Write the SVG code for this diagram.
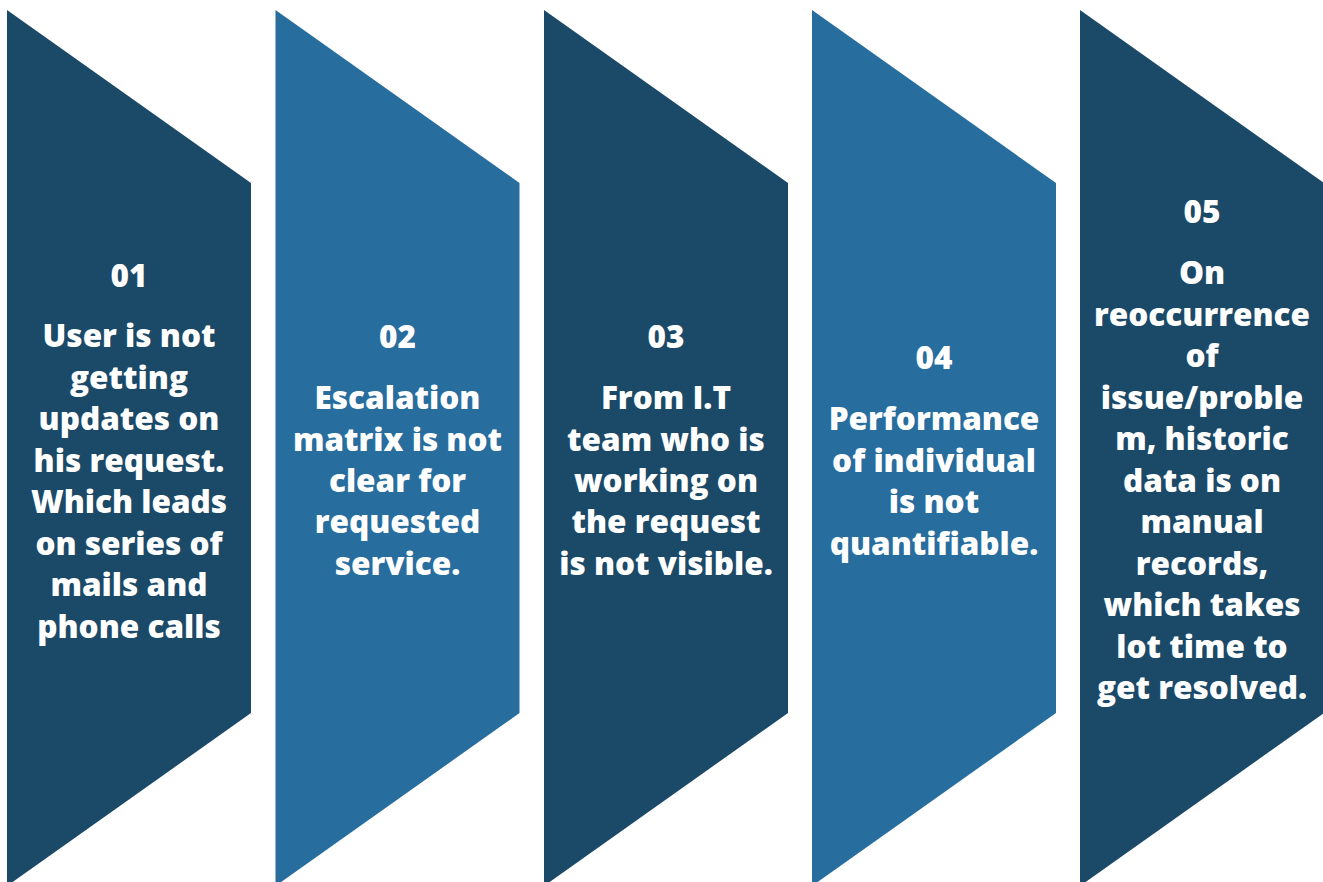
<svg xmlns="http://www.w3.org/2000/svg" width="1323" height="882" viewBox="0 0 1323 882">
<style>
.dark{fill:#1B4968}
.light{fill:#276D9E}
text{font-family:"Open Sans","Noto Sans","DejaVu Sans",sans-serif;font-weight:800;font-size:31.5px;fill:#FFFFFF;text-anchor:middle}
</style>
<rect x="0" y="0" width="1323" height="882" fill="#FFFFFF"/>
<g id="node1">
<polygon class="dark" points="7,10 251,183 251,713 7,886"/>
<text x="129"><tspan x="129" y="287">01</tspan><tspan x="129" y="347">User is not</tspan><tspan x="129" y="389">getting</tspan><tspan x="129" y="430">updates on</tspan><tspan x="129" y="472">his request.</tspan><tspan x="129" y="513">Which leads</tspan><tspan x="129" y="555">on series of</tspan><tspan x="129" y="596">mails and</tspan><tspan x="129" y="638">phone calls</tspan></text>
</g>
<g id="node2">
<polygon class="light" points="275.5,10 519.5,183 519.5,713 275.5,886"/>
<text><tspan x="397.5" y="348">02</tspan><tspan x="397.5" y="409">Escalation</tspan><tspan x="397.5" y="451">matrix is not</tspan><tspan x="397.5" y="492">clear for</tspan><tspan x="397.5" y="533">requested</tspan><tspan x="397.5" y="575">service.</tspan></text>
</g>
<g id="node3">
<polygon class="dark" points="544,10 788,183 788,713 544,886"/>
<text><tspan x="666" y="348">03</tspan><tspan x="666" y="409">From I.T</tspan><tspan x="666" y="451">team who is</tspan><tspan x="666" y="492">working on</tspan><tspan x="666" y="533">the request</tspan><tspan x="666" y="575">is not visible.</tspan></text>
</g>
<g id="node4">
<polygon class="light" points="812,10 1056,183 1056,713 812,886"/>
<text><tspan x="934" y="369">04</tspan><tspan x="934" y="430">Performance</tspan><tspan x="934" y="472">of individual</tspan><tspan x="934" y="513">is not</tspan><tspan x="934" y="555">quantifiable.</tspan></text>
</g>
<g id="node5">
<polygon class="dark" points="1080,10 1324,183 1324,713 1080,886"/>
<text><tspan x="1202" y="223">05</tspan><tspan x="1202" y="284">On</tspan><tspan x="1202" y="326">reoccurrence</tspan><tspan x="1202" y="367">of</tspan><tspan x="1202" y="409">issue/proble</tspan><tspan x="1202" y="450">m, historic</tspan><tspan x="1202" y="492">data is on</tspan><tspan x="1202" y="533">manual</tspan><tspan x="1202" y="575">records,</tspan><tspan x="1202" y="616">which takes</tspan><tspan x="1202" y="658">lot time to</tspan><tspan x="1202" y="699">get resolved.</tspan></text>
</g>
<g id="connectors"></g>
</svg>
